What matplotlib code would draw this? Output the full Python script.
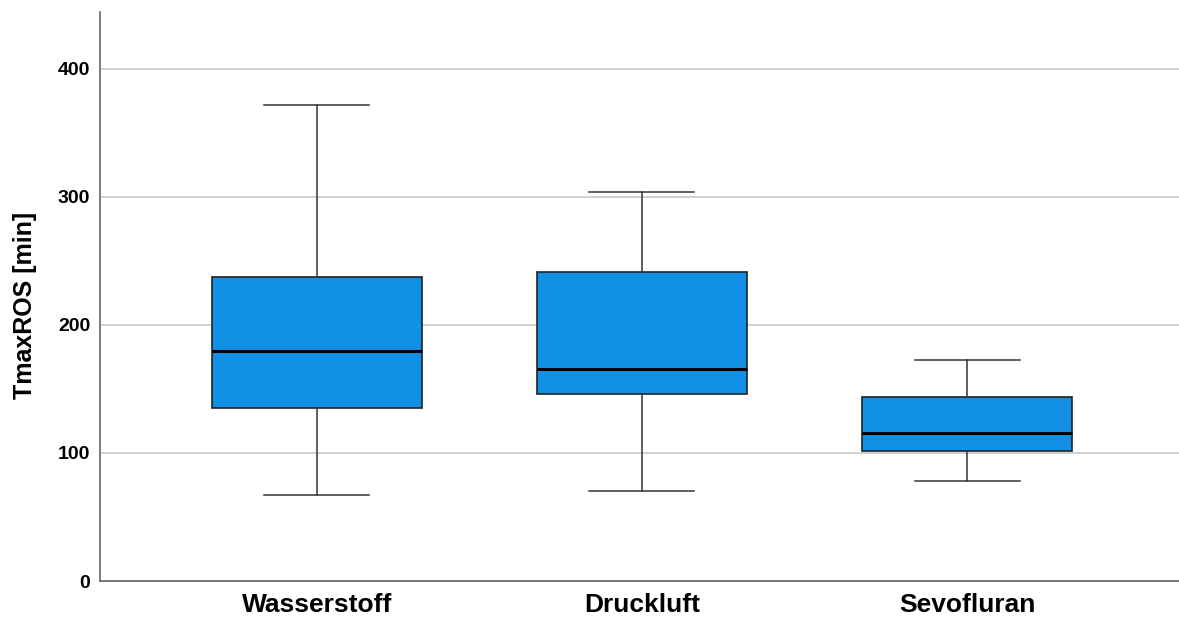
import matplotlib
matplotlib.use("Agg")
import matplotlib.pyplot as plt

categories = ["Wasserstoff", "Druckluft", "Sevofluran"]
whislo = [67.2, 70.3, 78.1]
q1 = [135.2, 146.1, 101.6]
med = [179.7, 165.6, 115.6]
q3 = [237.5, 241.4, 143.8]
whishi = [371.9, 303.9, 172.7]
yticks = [0, 100, 200, 300, 400]

plt.rcParams['font.family'] = ['Liberation Sans', 'DejaVu Sans']

fig = plt.figure(figsize=(11.79, 6.18), dpi=100)
ax = fig.add_axes([100/1179, 1-581/618, 1-100/1179, (581-12)/618])

stats = [dict(label=c, whislo=a, q1=b, med=m, q3=d, whishi=e, fliers=[])
         for c, a, b, m, d, e in zip(categories, whislo, q1, med, q3, whishi)]
ax.bxp(stats, positions=range(len(categories)), widths=0.646, patch_artist=True,
       showfliers=False,
       boxprops=dict(facecolor="#1190E6", edgecolor="#222222", linewidth=1.2),
       medianprops=dict(color="#000000", linewidth=2.2),
       whiskerprops=dict(color="#333333", linewidth=1.1),
       capprops=dict(color="#333333", linewidth=1.1),
       capwidths=0.323, zorder=3)

ax.set_xlim(-0.667, 2.652)
ax.set_ylim(0, 444.5)
ax.set_yticks(yticks)
ax.set_yticklabels([str(t) for t in yticks], fontsize=14, fontweight='bold')
ax.set_xticks(range(len(categories)))
ax.set_xticklabels(categories, fontsize=19, fontweight='bold')
ax.tick_params(axis='x', length=0, pad=9)
ax.tick_params(axis='y', length=0, pad=7)
ax.set_ylabel("TmaxROS [min]", fontsize=18, fontweight='bold')
ax.yaxis.set_label_coords(-0.058, 0.485)
ax.yaxis.grid(True, color="#c8c8c8", linewidth=1.2, zorder=0)
ax.set_axisbelow(True)
for s in ["top", "right"]:
    ax.spines[s].set_visible(False)
for s in ["left", "bottom"]:
    ax.spines[s].set_color("#666666")
    ax.spines[s].set_linewidth(1.2)

fig.savefig("out.png", dpi=100)
